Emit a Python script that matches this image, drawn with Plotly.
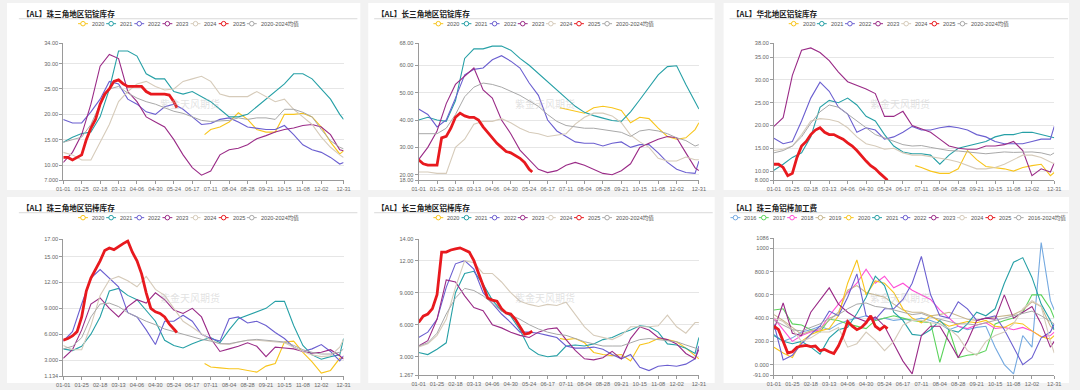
import plotly.graph_objects as go

W, H = 1080, 390

# ---------------- x grid (day of a 366-day year) ----------------
DAYS = [0, 12, 24, 36, 48, 60, 72, 84, 96, 108, 120, 132, 144, 156, 168, 180,
        192, 204, 216, 228, 240, 252, 264, 276, 288, 300, 312, 324, 336, 348, 360, 365]
DAYS_2020 = [184, 192, 204, 216, 228, 240, 252, 264, 276, 288, 300, 312, 324, 336, 348, 360, 365]
DAYS_2025 = [0, 6, 12, 18, 24, 30, 36, 42, 48, 54, 60, 66, 72, 78, 84, 90, 96, 102,
             108, 114, 120, 126, 132, 138, 144, 148]
TICK_DAYS = [0, 24, 48, 72, 96, 120, 144, 168, 192, 216, 240, 264, 288, 312, 336, 365]
TICK_LABELS = ['01-01', '01-25', '02-18', '03-13', '04-06', '04-30', '05-24', '06-17',
               '07-11', '08-04', '08-28', '09-21', '10-15', '11-08', '12-02', '12-31']

# ---------------- Panel 1: 珠三角地区铝锭库存 ----------------
P1_2020 = [16, 17, 17.5, 18.5, 20.3, 19, 17, 16.5, 16.5, 20, 20, 20.2, 19.5, 17.5, 14.5, 12.2, 12.8]
P1_2021 = [14.5, 15.5, 16.2, 16.5, 19.5, 25, 32.5, 32.5, 31.5, 28, 27, 27, 24.5, 24, 24.5, 23.5,
           22.5, 21, 19.5, 19.5, 20, 21.5, 23, 24.5, 26, 28, 28, 27, 25, 23, 20, 19]
P1_2022 = [19, 18.3, 18.3, 20.5, 23, 26.5, 26, 23, 22, 20.5, 20, 21.5, 22, 21, 19.5, 18,
           18.2, 19, 19.3, 18.5, 17.5, 17.2, 17, 17, 17.8, 16, 14, 13, 12.5, 11.5, 10.2, 10.5]
P1_2023 = [10.5, 12.5, 16, 22, 29.5, 31.8, 31, 24.5, 22.5, 19.5, 18.5, 17.5, 15, 12, 9.5, 8,
           8.8, 12, 13, 13.3, 14, 15.2, 15.8, 16.5, 17, 17.3, 17.8, 18, 17.5, 16, 13, 12.8]
P1_2024 = [12.5, 12, 11, 11, 14.5, 18, 22.5, 24.5, 26, 26.5, 25.5, 24.8, 25, 26.5, 27, 27.5,
           26.5, 24, 23.5, 23.5, 23.5, 24.5, 23.5, 22.5, 23, 21, 19.5, 18, 15.5, 13.5, 12, 11.5]
P1_AVG = [14.5, 15, 15.5, 18, 22, 25, 25.5, 24.2, 23.2, 22.5, 22, 21.3, 20.6, 20.2, 19.5, 18.8,
          18.6, 18.7, 18.8, 19.3, 19, 19.3, 19.3, 19, 21, 21, 20.4, 19.5, 17, 14.8, 13.5, 13.2]
P1_2025 = [11.5, 11.5, 11, 11.5, 12, 15, 17.3, 19, 22, 24, 25, 26.5, 26.8, 26, 25.5, 25.5,
           25.5, 25.5, 24.5, 24, 24, 24, 24, 23.8, 22.5, 21.3]

# ---------------- Panel 2: 长三角地区铝锭库存 ----------------
P2_2020 = [44.5, 44, 43, 42.5, 44.5, 45, 44.5, 43.5, 39, 41, 40.5, 37, 34, 33, 33.5, 36.5, 39]
P2_2021 = [40, 41, 40, 39.5, 47, 62.5, 66, 66, 67, 67, 65.5, 62.5, 60, 57, 54, 51,
           48, 45, 42.8, 41.6, 40.7, 39.8, 39.5, 43, 47.4, 52, 56.5, 59.5, 59.8, 53, 47, 44]
P2_2022 = [44, 42, 37.5, 40, 48, 56.5, 58.5, 59, 62, 63.5, 61.5, 59, 53.5, 49, 40, 36,
           34, 32, 31.5, 31.5, 30.5, 31.5, 32, 30, 31, 31, 28, 24.5, 22, 20.8, 20.5, 25]
P2_2023 = [25.5, 30, 36, 46, 53, 56, 59, 51, 48, 40, 35, 29, 25.5, 22, 20.8, 21.5,
           23.5, 24.5, 23.5, 22, 20.5, 20, 21.5, 24, 30, 31.5, 33, 34, 33.5, 28, 22.5, 21.5]
P2_2024 = [21, 21, 20.5, 20.5, 30, 33, 38.5, 39.5, 39.5, 40.5, 39, 37, 35.5, 35, 34, 34.5,
           35, 38.5, 41, 42.5, 42.5, 41.5, 39, 34.5, 32, 30, 26, 25, 25, 26.5, 25.5, 25.5]
P2_AVG = [35, 35, 35, 37, 42, 48.5, 52, 53.5, 53, 52, 50.5, 49, 47, 45, 42, 39.5,
          38, 37.5, 37, 37, 36.5, 36, 35.5, 34, 36, 36.5, 36, 35, 33.5, 32.5, 30.5, 31]
P2_2025 = [25.5, 24, 23.5, 23.5, 23.5, 33.5, 34, 37, 41, 42.5, 41.5, 41, 41, 40, 37.5, 35.5,
           33.5, 31.5, 30, 28.5, 28, 27, 26, 24.5, 22, 21]

# ---------------- Panel 3: 华北地区铝锭库存 ----------------
P3_2020 = [11.2, 10.8, 10, 9.5, 9.5, 10.5, 14.5, 12.5, 11, 10.8, 10.5, 10, 10.8, 11.2, 11.5, 9, 9.7]
P3_2021 = [10.2, 11.5, 13, 14, 17.5, 24, 25.5, 25, 26, 24.5, 22, 21, 18, 15.5, 14.2, 13.8,
           13.8, 13.5, 11.5, 13.5, 15, 15.5, 16, 16.5, 17.5, 18, 18, 18.5, 18.5, 18, 17.5, 17.3]
P3_2022 = [17.2, 16, 16.5, 21, 26, 29.5, 27.5, 24, 22.5, 18.5, 19.5, 19, 17, 17.5, 18.5, 19.8,
           19, 19, 19.5, 19.8, 19.5, 19, 18, 17.5, 16.5, 16, 16, 16, 16.5, 17, 17, 19.8]
P3_2023 = [19.8, 21.7, 31, 36.5, 37, 36, 34.2, 31.7, 29.6, 28.8, 28, 27, 22, 22, 23.1, 20,
           19.3, 18.5, 17, 15.5, 15, 14.8, 14.8, 15.5, 15.5, 15.8, 16.5, 14.5, 9, 10.5, 9.8, 11.8]
P3_2024 = [14.5, 14.8, 15.5, 18, 21, 21.5, 21.3, 20.8, 19.5, 17.5, 16, 15.5, 14.8, 15, 14, 13.5,
           13.5, 13.2, 12.8, 12.5, 12, 11.2, 10.5, 10.5, 10.8, 11.5, 12.5, 13.5, 13.5, 13, 12, 11.6]
P3_AVG = [14, 14.5, 15.5, 17.5, 20.5, 23, 24.5, 24, 22.5, 21, 19.5, 18, 17.3, 16.5, 15.8, 15.5,
          15.6, 15.2, 14.8, 14.5, 14.4, 14.2, 14, 13.8, 14, 14.2, 14.1, 14.1, 14.2, 14, 13.5, 14]
P3_2025 = [11.5, 11.5, 10.8, 9, 9.5, 13, 15.5, 16.5, 18, 19, 19.5, 18.5, 18, 18, 17.5, 17,
           16.2, 15.5, 14.5, 13.3, 12.2, 11.2, 10.5, 9.5, 8.5, 8]

# ---------------- Panel 4: 珠三角地区铝棒库存 ----------------
P4_2020 = [2.6, 2.2, 2.1, 2, 2, 1.8, 1.6, 2.3, 2.6, 5.1, 5.2, 3.9, 2.8, 1.5, 1.8, 3.2, 3.3]
P4_2021 = [4.3, 4.1, 4.6, 6, 8, 11, 11.3, 10.5, 10, 8.8, 7.5, 5.3, 4.7, 4.4, 4.9, 5.3,
           5.6, 5, 6.5, 7.8, 8.2, 8.6, 9, 9.8, 9.8, 7, 4.7, 3.6, 3.1, 3.4, 3.6, 5.5]
P4_2022 = [5.2, 6.3, 9.5, 12.5, 13.5, 12.5, 11.5, 8.5, 8, 6.5, 4.8, 7.5, 7.5, 8.2, 7.5, 6,
           5.5, 5.2, 7.8, 8, 7.3, 7.5, 7, 6.2, 5.5, 4.5, 4, 4.3, 4.8, 4, 2.9, 3.5]
P4_2023 = [3.2, 4.2, 6.5, 9.5, 10.2, 9, 8, 9.2, 10, 9.6, 10.8, 10, 8.8, 8.4, 9, 8,
           5.5, 4, 4.3, 4.6, 5, 4.6, 3.4, 4.5, 4.4, 4.3, 4, 3.8, 3.9, 4.2, 3.5, 3.1]
P4_2024 = [4.7, 4.2, 4.2, 7, 10.5, 12.3, 12.7, 12.2, 11.5, 12.7, 11.2, 10.5, 9, 7.5, 6.8, 6,
           5.3, 4.9, 4.8, 5.1, 5.3, 5.3, 5.2, 5.1, 5, 4.5, 4, 3.6, 3.4, 3.5, 4.5, 5.4]
P4_AVG = [4.3, 4.6, 5.6, 8, 9.5, 9.6, 9.2, 8.5, 8, 7.5, 7.1, 6.6, 6.3, 6, 5.7, 5.4,
          5.2, 4.9, 4.9, 5.1, 5.3, 5.4, 5.3, 5.2, 5.1, 4.7, 4.2, 3.9, 3.7, 3.7, 3.9, 4.3]
P4_2025 = [5.3, 5.5, 5.8, 6.3, 8, 11, 12.5, 13.5, 14.5, 15.7, 16, 15.8, 16.2, 16.5, 16.8, 15.5,
           14.5, 13, 10.8, 9, 8.6, 8.4, 8, 7.2, 6.6, 6.2]

# ---------------- Panel 5: 长三角地区铝棒库存 ----------------
P5_2020 = [4.7, 4.6, 4.7, 4.3, 3.4, 3.2, 3.1, 3.2, 2.6, 4.1, 4.3, 4.7, 4.6, 4.4, 3.8, 3.1, 2.8]
P5_2021 = [3.4, 3.2, 3.7, 4.3, 9, 10.8, 11, 9.8, 8.3, 7.3, 6.8, 5.5, 3.8, 3.2, 3, 3.1,
           4, 4.1, 4, 4.2, 4.6, 4.8, 5.2, 5.5, 5.9, 5.8, 5.3, 4.2, 4.1, 3.8, 3.3, 4.8]
P5_2022 = [4.8, 5.3, 6.5, 9.5, 11.7, 12, 11.2, 9, 8, 7, 6.2, 5.3, 5.3, 5.2, 5, 4.8,
           4, 3.8, 3.8, 3.9, 3.7, 3.2, 2.8, 3.2, 2, 1.7, 2.1, 2.2, 2.1, 2.3, 2.8, 4]
P5_2023 = [4, 4.5, 6.5, 10.2, 10, 8.7, 7.6, 7.3, 6, 5.7, 5.3, 5, 4.8, 5.3, 5.6, 5.7,
           4.6, 3.6, 2.8, 2.7, 2.9, 3.5, 2.8, 4.7, 5.8, 5.5, 4.8, 4.6, 4.2, 3.3, 2.8, 3.7]
P5_2024 = [3.9, 4.2, 5, 6.5, 9.5, 12, 11.8, 10.8, 10.8, 10, 9, 8.2, 7.9, 7.7, 7.9, 7.8,
           8.1, 7, 5.8, 5, 4.8, 4.6, 5, 5.8, 5.8, 5.8, 5.9, 6.9, 5.8, 5.2, 6.2, 6.2]
P5_AVG = [4, 4.3, 5.2, 7, 8.5, 9.4, 9.2, 8.7, 8, 7.3, 6.9, 6.5, 6, 5.6, 5.3, 5.1,
          5, 4.7, 4.4, 4.2, 4, 4, 4, 4.3, 4.6, 4.7, 4.6, 4.5, 4.4, 4.1, 3.8, 3.7]
P5_2025 = [6.2, 6.8, 7, 7.5, 8.8, 12.8, 12.8, 13, 13.1, 13.2, 13, 12.8, 12, 10.8, 9.5, 8.5,
           8.3, 8.2, 7.5, 7.1, 7, 6.5, 5.8, 5.1, 5.2, 5.4]

# ---------------- Panel 6: 珠三角铝棒加工费 ----------------
P6_2016 = [260, 200, 230, 280, 300, 330, 300, 350, 380, 400, 420, 380, 400, 380, 390, 380,
           400, 380, 350, 300, 330, 300, 320, 330, 150, 0, -80, 250, 150, 1050, 550, 470]
P6_2017 = [470, 480, 350, 340, 300, 280, 390, 380, 350, 330, 310, 380, 400, 420, 400, 380,
           370, 360, 20, 300, 60, 80, 90, 120, 350, 380, 400, 450, 600, 600, 480, 400]
P6_2018 = [400, 300, 200, 250, 280, 300, 420, 520, 620, 700, 820, 700, 760, 660, 700, 640,
           600, 560, 470, 400, 330, 310, 340, 360, 310, 320, 300, 320, 290, 240, 250, 280]
P6_2019 = [430, 380, 320, 260, 290, 310, 380, 450, 640, 680, 620, 600, 580, 520, 470, 450,
           450, 420, 430, 450, 420, 390, 380, 400, 410, 420, 430, 470, 540, 500, 330, 300]
P6_2020 = [150, 100, 60, 200, 260, 290, 310, 420, 700, 900, 600, 720, 700, 620, 480, 400,
           360, 420, 370, 330, 350, 370, 360, 380, 330, 320, 360, 350, 290, 240, 220, 250]
P6_2021 = [250, 200, 180, 200, 150, 90, 230, 300, 320, 440, 580, 760, 680, 450, 380, 260,
           250, 300, 380, 300, 280, 350, 450, 420, 480, 700, 880, 920, 750, 520, 380, 300]
P6_2022 = [350, 40, 80, 180, 260, 330, 460, 420, 580, 780, 420, 390, 480, 480, 560, 700,
           930, 600, 420, 400, 540, 480, 380, 400, 420, 300, 150, 0, 60, 230, 280, 350]
P6_2023 = [300, 530, 270, 250, 450, 560, 660, 520, 450, 400, 370, 410, 330, 180, 30, -80,
           250, 330, 330, 200, 60, 200, 380, 400, 390, 600, 400, 450, 500, 350, 150, 200]
P6_2024 = [400, 370, 300, 200, 230, 280, 280, 320, 150, 180, 280, 210, 120, 200, 340, 380,
           380, 360, 350, 310, 240, 120, 80, 200, 250, 280, 350, 480, 550, 500, 200, 100]
P6_AVG = [380, 340, 300, 290, 320, 350, 400, 430, 480, 520, 530, 500, 490, 470, 450, 430,
          440, 410, 390, 370, 350, 350, 340, 360, 380, 400, 420, 440, 460, 420, 370, 350]
P6_2025 = [330, 300, 200, 100, 110, 150, 160, 165, 155, 160, 120, 130, 110, 95, 160, 250,
           370, 330, 300, 320, 360, 420, 330, 300, 330, 310]

# ---------------- colours ----------------
C2016 = '#74a9e0'
C2017 = '#5cd35c'
C2018 = '#ff4fd6'
C2019 = '#c8b78e'
C2020 = '#f8c51c'
C2021 = '#26a0a6'
C2022 = '#6b5fd0'
C2023 = '#9a2b87'
C2024 = '#d6cbba'
C2025 = '#e8191e'
CAVG = '#a8a8a8'

LEG5 = [('2020', C2020), ('2021', C2021), ('2022', C2022), ('2023', C2023),
        ('2024', C2024), ('2025', C2025), ('2020-2024均值', CAVG)]
LEG6 = [('2016', C2016), ('2017', C2017), ('2018', C2018), ('2019', C2019), ('2020', C2020),
        ('2021', C2021), ('2022', C2022), ('2023', C2023), ('2024', C2024), ('2025', C2025),
        ('2016-2024均值', CAVG)]


def std_series(a20, a21, a22, a23, a24, avg, a25):
    return [(DAYS_2020, a20, C2020, 1.1), (DAYS, a21, C2021, 1.1), (DAYS, a22, C2022, 1.1),
            (DAYS, a23, C2023, 1.1), (DAYS, a24, C2024, 1.1), (DAYS, avg, CAVG, 1.0),
            (DAYS_2025, a25, C2025, 2.8)]


PANELS = [
    dict(title='【AL】珠三角地区铝锭库存', col=0, row=0, rect=(57, 41, 341, 180), yr=(7, 34),
         yt=[7, 10, 15, 20, 25, 30, 34],
         ytt=['7.000', '10.00', '15.00', '20.00', '25.00', '30.00', '34.00'],
         series=std_series(P1_2020, P1_2021, P1_2022, P1_2023, P1_2024, P1_AVG, P1_2025),
         legend=LEG5),
    dict(title='【AL】长三角地区铝锭库存', col=1, row=0, rect=(417, 41, 701, 180), yr=(18, 68),
         yt=[18, 20, 30, 40, 50, 60, 68],
         ytt=['18.00', '20.00', '30.00', '40.00', '50.00', '60.00', '68.00'],
         series=std_series(P2_2020, P2_2021, P2_2022, P2_2023, P2_2024, P2_AVG, P2_2025),
         legend=LEG5),
    dict(title='【AL】华北地区铝锭库存', col=2, row=0, rect=(777, 41, 1061, 180), yr=(8, 38),
         yt=[8, 10, 15, 20, 25, 30, 35, 38],
         ytt=['8.000', '10.00', '15.00', '20.00', '25.00', '30.00', '35.00', '38.00'],
         series=std_series(P3_2020, P3_2021, P3_2022, P3_2023, P3_2024, P3_AVG, P3_2025),
         legend=LEG5),
    dict(title='【AL】珠三角地区铝棒库存', col=0, row=1, rect=(57, 240, 341, 379), yr=(1.134, 17),
         yt=[1.134, 3, 6, 9, 12, 15, 17],
         ytt=['1.134', '3.000', '6.000', '9.000', '12.00', '15.00', '17.00'],
         series=std_series(P4_2020, P4_2021, P4_2022, P4_2023, P4_2024, P4_AVG, P4_2025),
         legend=LEG5),
    dict(title='【AL】长三角地区铝棒库存', col=1, row=1, rect=(417, 240, 701, 378), yr=(1.267, 14),
         yt=[1.267, 3, 6, 9, 12, 14],
         ytt=['1.267', '3.000', '6.000', '9.000', '12.00', '14.00'],
         series=std_series(P5_2020, P5_2021, P5_2022, P5_2023, P5_2024, P5_AVG, P5_2025),
         legend=LEG5),
    dict(title='【AL】珠三角铝棒加工费', col=2, row=1, rect=(777, 239, 1061, 378), yr=(-91, 1086),
         yt=[-91, 0, 200, 400, 600, 800, 1000, 1086],
         ytt=['-91.00', '0.000', '200.0', '400.0', '600.0', '800.0', '1000', '1086'],
         series=[(DAYS, P6_2016, C2016, 1.1), (DAYS, P6_2017, C2017, 1.1),
                 (DAYS, P6_2018, C2018, 1.1), (DAYS, P6_2019, C2019, 1.1),
                 (DAYS, P6_2020, C2020, 1.1), (DAYS, P6_2021, C2021, 1.1),
                 (DAYS, P6_2022, C2022, 1.1), (DAYS, P6_2023, C2023, 1.1),
                 (DAYS, P6_2024, C2024, 1.1), (DAYS, P6_AVG, CAVG, 1.0),
                 (DAYS_2025, P6_2025, C2025, 2.8)],
         legend=LEG6),
]

COL_X = [0, 360, 720]
CARD_X = [(0, 358), (366, 717), (726, 1076)]
ROW_Y = [0, 197]
CARD_Y = [(0, 190), (197, 386)]

FONT = 'Liberation Sans, Arial, Noto Sans CJK SC, sans-serif'
CJK = 'Noto Sans CJK SC, sans-serif'


def px(x):
    return x / W


def py(y):
    return 1 - y / H


fig = go.Figure()
shapes = []
annotations = []
layout = {}

# white cards
for (cx0, cx1) in CARD_X:
    for (cy0, cy1) in CARD_Y:
        shapes.append(dict(type='rect', xref='paper', yref='paper', layer='below',
                           x0=px(cx0), x1=px(cx1), y0=py(cy1), y1=py(cy0),
                           fillcolor='white', line=dict(width=0)))

for i, p in enumerate(PANELS, start=1):
    sfx = '' if i == 1 else str(i)
    x0, y0, x1, y1 = p['rect']
    ox = COL_X[p['col']]
    oy = ROW_Y[p['row']]
    layout['xaxis' + sfx] = dict(
        domain=[px(x0), px(x1)], anchor='y' + sfx, range=[0, 365],
        tickmode='array', tickvals=TICK_DAYS, ticktext=TICK_LABELS,
        showgrid=False, zeroline=False, showline=True, linecolor='#9a9a9a', linewidth=1,
        ticks='outside', ticklen=3, tickcolor='#9a9a9a',
        tickfont=dict(family=FONT, size=5.6, color='#666666'), fixedrange=True)
    layout['yaxis' + sfx] = dict(
        domain=[py(y1), py(y0)], anchor='x' + sfx, range=list(p['yr']),
        tickmode='array', tickvals=p['yt'], ticktext=p['ytt'],
        showgrid=True, gridcolor='#e6e6e6', gridwidth=1, zeroline=False,
        showline=True, linecolor='#9a9a9a', linewidth=1,
        ticks='outside', ticklen=3, tickcolor='#9a9a9a',
        tickfont=dict(family=FONT, size=5.6, color='#666666'), fixedrange=True)

    for xs, ys, col, lw in p['series']:
        fig.add_trace(go.Scatter(x=xs, y=ys, mode='lines', line=dict(color=col, width=lw),
                                 xaxis='x' + sfx, yaxis='y' + sfx, showlegend=False,
                                 hoverinfo='skip'))

    # title + rule
    annotations.append(dict(xref='paper', yref='paper', x=px(ox + 13), y=py(oy + 10.5),
                            xanchor='left', yanchor='middle', showarrow=False,
                            text='<b>' + p['title'] + '</b>',
                            font=dict(family=CJK, size=7.6, color='#222222')))
    shapes.append(dict(type='line', xref='paper', yref='paper',
                       x0=px(ox + 12), x1=px(ox + 355), y0=py(oy + 16), y1=py(oy + 16),
                       line=dict(color='#d9d9d9', width=1)))

    # watermark
    annotations.append(dict(xref='paper', yref='paper', x=px(ox + 185), y=py(oy + 102),
                            xanchor='center', yanchor='middle', showarrow=False,
                            text='紫金天风期货',
                            font=dict(family=CJK, size=10, color='rgba(190,190,190,0.45)')))

    # legend (line + hollow circle + label)
    ly = oy + 21
    if len(p['legend']) == 7:
        start, step = ox + 77, 28.5
    else:
        start, step = ox + 18, 28.7
    for k, (lab, col) in enumerate(p['legend']):
        cx = start + step * k
        shapes.append(dict(type='line', xref='paper', yref='paper',
                           x0=px(cx - 5), x1=px(cx + 5), y0=py(ly), y1=py(ly),
                           line=dict(color=col, width=1)))
        r = 2.3
        shapes.append(dict(type='circle', xref='paper', yref='paper',
                           x0=px(cx - r), x1=px(cx + r), y0=py(ly + r), y1=py(ly - r),
                           fillcolor='white', line=dict(color=col, width=1)))
        annotations.append(dict(xref='paper', yref='paper', x=px(cx + 7), y=py(ly),
                                xanchor='left', yanchor='middle', showarrow=False,
                                text=lab, font=dict(family=FONT, size=5.6, color='#555555')))

fig.update_layout(width=W, height=H, autosize=False,
                  margin=dict(l=0, r=0, t=0, b=0, pad=0),
                  paper_bgcolor='#f2f2f2', plot_bgcolor='rgba(0,0,0,0)',
                  showlegend=False, shapes=shapes, annotations=annotations, **layout)

fig.write_html("out.html", config={'displayModeBar': False},
               post_script="document.body.style.margin='0px';document.body.style.overflow='hidden';")
